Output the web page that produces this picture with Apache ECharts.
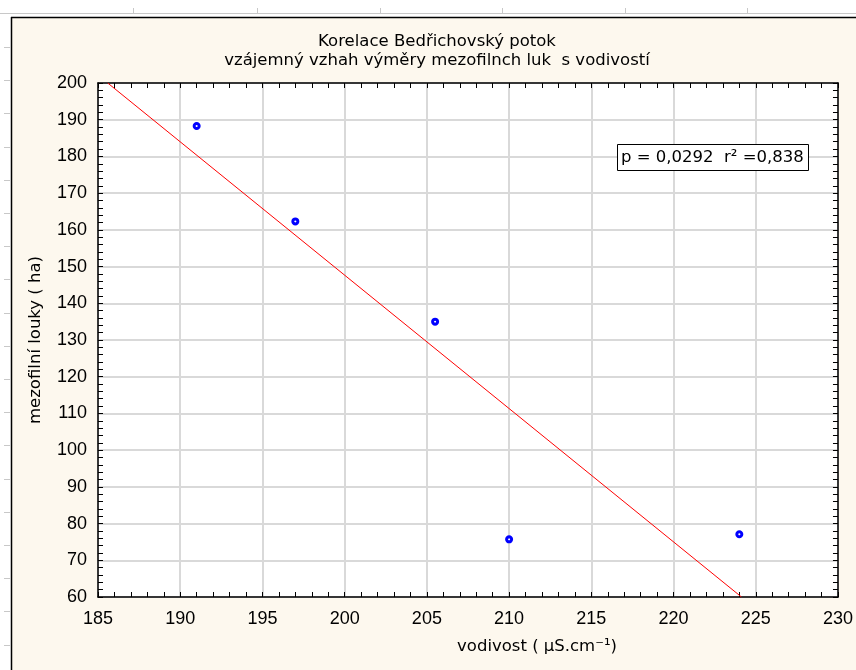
<!DOCTYPE html>
<html>
<head>
<meta charset="utf-8">
<script src="https://cdn.jsdelivr.net/npm/echarts@6/dist/echarts.min.js"></script>
<style>
  html, body { margin: 0; padding: 0; background: #fff; }
  #main { width: 856px; height: 670px; }
</style>
</head>
<body>
<div id="main"></div>
<script>
// hodnoty
var conductivity = [191, 197, 205.5, 210, 224];     // vodivost (µS.cm-1)
var meadows = [188.3, 162.3, 135, 75.7, 77.1];      // mezofilní louky (ha)
var xTicks = [185, 190, 195, 200, 205, 210, 215, 220, 225, 230];
var yTicks = [60, 70, 80, 90, 100, 110, 120, 130, 140, 150, 160, 170, 180, 190, 200];
var statText = 'p = 0,0292  r\u00b2 =0,838';

// lineární regrese
var n = conductivity.length, mx = 0, my = 0;
for (var i = 0; i < n; i++) { mx += conductivity[i]; my += meadows[i]; }
mx /= n; my /= n;
var sxy = 0, sxx = 0;
for (var i = 0; i < n; i++) {
  sxy += (conductivity[i] - mx) * (meadows[i] - my);
  sxx += (conductivity[i] - mx) * (conductivity[i] - mx);
}
var slope = sxy / sxx, icpt = my - slope * mx;
var yMin = yTicks[0], yMax = yTicks[yTicks.length - 1];
var xMin = xTicks[0], xMax = xTicks[xTicks.length - 1];
var lineStart = Math.max(xMin, (yMax - icpt) / slope);
var lineEnd = Math.min(xMax, (yMin - icpt) / slope);
var fitLine = [[lineStart, slope * lineStart + icpt], [lineEnd, slope * lineEnd + icpt]];

var points = conductivity.map(function (x, k) { return [x, meadows[k]]; });

var font = '"Liberation Sans", Arial, sans-serif';
var wide = '"DejaVu Sans", Verdana, sans-serif';
var deco = [
  { type: 'rect', z: -5, shape: { x: 0, y: 0, width: 856, height: 670 }, style: { fill: '#ffffff' } },
  { type: 'line', z: -4, shape: { x1: 0, y1: 13.5, x2: 856, y2: 13.5 }, style: { stroke: '#c8c8c8', lineWidth: 1 } },
  { type: 'rect', z: -3, shape: { x: 11, y: 17, width: 845, height: 653 }, style: { fill: '#fdf8ee' } },
  { type: 'line', z: -2, shape: { x1: 11.5, y1: 17, x2: 11.5, y2: 670 }, style: { stroke: '#000', lineWidth: 1.5 } },
  { type: 'line', z: -2, shape: { x1: 11, y1: 17.5, x2: 856, y2: 17.5 }, style: { stroke: '#000', lineWidth: 1.5 } }
];
[133, 257, 380, 502, 625, 747].forEach(function (cx) {
  deco.push({ type: 'line', z: -4, shape: { x1: cx + 0.5, y1: 8, x2: cx + 0.5, y2: 14 }, style: { stroke: '#c8c8c8', lineWidth: 1 } });
});
for (var yy = 47; yy < 670; yy += 33.2) {
  deco.push({ type: 'line', z: -4, shape: { x1: 4, y1: Math.round(yy) + 0.5, x2: 10, y2: Math.round(yy) + 0.5 }, style: { stroke: '#c8c8c8', lineWidth: 1 } });
}
deco.push({
  type: 'text', x: 537, y: 647, z: 50,
  style: { text: 'vodivost ( \u00b5S.cm\u207b\u00b9)', font: '16.5px ' + wide, fill: '#000', textAlign: 'center', textVerticalAlign: 'middle' }
});
deco.push({ type: 'rect', z: 60, shape: { x: 617.5, y: 144.5, width: 191, height: 26 }, style: { fill: '#fff', stroke: '#000', lineWidth: 1 } });
deco.push({ type: 'text', z: 61, x: 621, y: 158, style: { text: statText, font: '16.5px ' + wide, fill: '#000', textVerticalAlign: 'middle' } });

var myChart = echarts.init(document.getElementById('main'));
var option = {
  backgroundColor: 'transparent',
  animation: false,
  title: {
    text: 'Korelace Bedřichovský potok\nvzájemný vzhah výměry mezofilnch luk  s vodivostí',
    left: 437, top: 32, textAlign: 'center', padding: 0,
    textStyle: { fontSize: 16.5, fontWeight: 'normal', color: '#000', fontFamily: wide, lineHeight: 19 }
  },
  graphic: deco,
  grid: { left: 98, top: 83, width: 741, height: 514, show: true, backgroundColor: '#fff', borderWidth: 0 },
  xAxis: [{
    type: 'value', min: xMin, max: xMax, interval: 5,
    axisLine: { lineStyle: { color: '#000', width: 1.5 } },
    axisTick: { inside: true, length: 5, lineStyle: { color: '#000' } },
    minorTick: { show: true, splitNumber: 5, length: 5, lineStyle: { color: '#000' } },
    axisLabel: { color: '#000', fontSize: 18, fontFamily: font, margin: 13 },
    splitLine: { show: true, lineStyle: { color: '#d9d9d9', width: 2 } }
  }, {
    type: 'value', position: 'top', min: xMin, max: xMax, interval: 5,
    axisLine: { show: true, lineStyle: { color: '#000', width: 1.5 } },
    axisTick: { inside: true, length: 5, lineStyle: { color: '#000' } },
    minorTick: { show: true, splitNumber: 5, length: 5, lineStyle: { color: '#000' } },
    axisLabel: { show: false }, splitLine: { show: false }
  }],
  yAxis: [{
    type: 'value', min: yMin, max: yMax, interval: 10,
    name: 'mezofilní louky ( ha)', nameLocation: 'middle', nameGap: 54,
    nameTextStyle: { color: '#000', fontSize: 16.5, fontFamily: wide },
    axisLine: { show: true, lineStyle: { color: '#000', width: 1.5 } },
    axisTick: { show: true, inside: true, length: 5, lineStyle: { color: '#000' } },
    minorTick: { show: true, splitNumber: 5, length: 5, lineStyle: { color: '#000' } },
    axisLabel: { color: '#000', fontSize: 18, fontFamily: font, margin: 11 },
    splitLine: { show: true, lineStyle: { color: '#d9d9d9', width: 2 } }
  }, {
    type: 'value', position: 'right', min: yMin, max: yMax, interval: 10,
    axisLine: { show: true, lineStyle: { color: '#000', width: 1.5 } },
    axisTick: { show: true, inside: true, length: 5, lineStyle: { color: '#000' } },
    minorTick: { show: true, splitNumber: 5, length: 5, lineStyle: { color: '#000' } },
    axisLabel: { show: false }, splitLine: { show: false }
  }],
  series: [{
    type: 'line', data: fitLine, symbol: 'none', silent: true,
    lineStyle: { color: '#ff0000', width: 1 }, z: 3
  }, {
    type: 'scatter', data: points, symbol: 'circle', symbolSize: 5,
    itemStyle: { color: '#ffffff', borderColor: '#0000ff', borderWidth: 3, opacity: 1 }, z: 4
  }]
};
myChart.setOption(option);
</script>
</body>
</html>
